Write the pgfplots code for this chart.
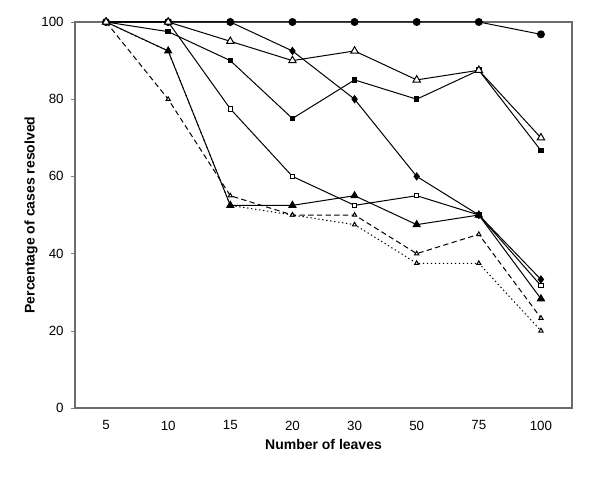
\documentclass[border=0pt]{standalone}
\usepackage{pgfplots}
\pgfplotsset{compat=1.18}
\usepackage{fontspec}
\setmainfont{Liberation Sans}
\begin{document}
\begin{tikzpicture}
\begin{axis}[
  scale only axis,
  width=372.75pt, height=289.5pt,
  xmin=-0.5, xmax=7.5, ymin=0, ymax=100,
  xtick={0,1,2,3,4,5,6,7},
  xticklabels={5,10,15,20,30,50,75,100},
  extra x ticks={0.5,1.5,2.5,3.5,4.5,5.5,6.5},
  extra x tick labels={},
  extra x tick style={major tick length=4pt, tick style={draw=gray}},
  xtick style={draw=none},
  ytick={0,20,40,60,80,100},
  tick align=outside,
  xtick pos=bottom, ytick pos=left,
  major tick length=3pt,
  ytick style={draw=gray},
  axis line style={draw=gray!85!black, line width=0.8pt},
  /pgf/number format/assume math mode=true,
  ticklabel style={font=\fontsize{10}{12}\selectfont},
  xticklabel style={yshift=-3pt},
  yticklabel style={xshift=-2pt},
  xlabel={\bfseries Number of leaves},
  ylabel={\bfseries Percentage of cases resolved},
  label style={font=\fontsize{10.5}{12}\selectfont},
  xlabel style={yshift=7pt},
  ylabel style={yshift=-4pt},
  every axis plot/.append style={line width=0.75pt, black},
  clip=false,
]
% dotted small open triangle
\addplot[dash pattern=on 1pt off 2pt, mark=triangle*, mark options={solid, fill=white, scale=0.9}] coordinates {
 (0,100) (1,92.5) (2,52.5) (3,50) (4,47.5) (5,37.5) (6,37.5) (7,20)};
% dashed small open triangle
\addplot[dash pattern=on 4pt off 2.5pt, mark=triangle*, mark options={solid, fill=white, scale=0.9}] coordinates {
 (0,100) (1,80) (2,55) (3,50) (4,50) (5,40) (6,45) (7,23.3)};
% filled triangle
\addplot[solid, mark=triangle*, mark options={fill=black, scale=1.5}] coordinates {
 (0,100) (1,92.5) (2,52.5) (3,52.5) (4,55) (5,47.5) (6,50) (7,28.3)};
% open small square
\addplot[solid, mark=square*, mark options={fill=white, scale=0.85}] coordinates {
 (0,100) (1,100) (2,77.5) (3,60) (4,52.5) (5,55) (6,50) (7,31.7)};
% filled diamond
\addplot[solid, mark=diamond*, mark options={fill=black, scale=1.3}] coordinates {
 (0,100) (1,100) (2,100) (3,92.5) (4,80) (5,60) (6,50) (7,33.3)};
% filled square
\addplot[solid, mark=square*, mark options={fill=black, scale=0.85}] coordinates {
 (0,100) (1,97.5) (2,90) (3,75) (4,85) (5,80) (6,87.5) (7,66.7)};
% filled circle
\addplot[solid, mark=*, mark options={fill=black, scale=1.3}] coordinates {
 (0,100) (1,100) (2,100) (3,100) (4,100) (5,100) (6,100) (7,96.8)};
% big open triangle
\addplot[solid, mark=triangle*, mark options={fill=white, scale=1.6}] coordinates {
 (0,100) (1,100) (2,95) (3,90) (4,92.5) (5,85) (6,87.5) (7,70)};
\end{axis}
\path[use as bounding box] ([xshift=-56.25pt,yshift=-53.25pt]current axis.south west) rectangle ([xshift=21pt,yshift=16.5pt]current axis.north east);
\end{tikzpicture}
\end{document}
